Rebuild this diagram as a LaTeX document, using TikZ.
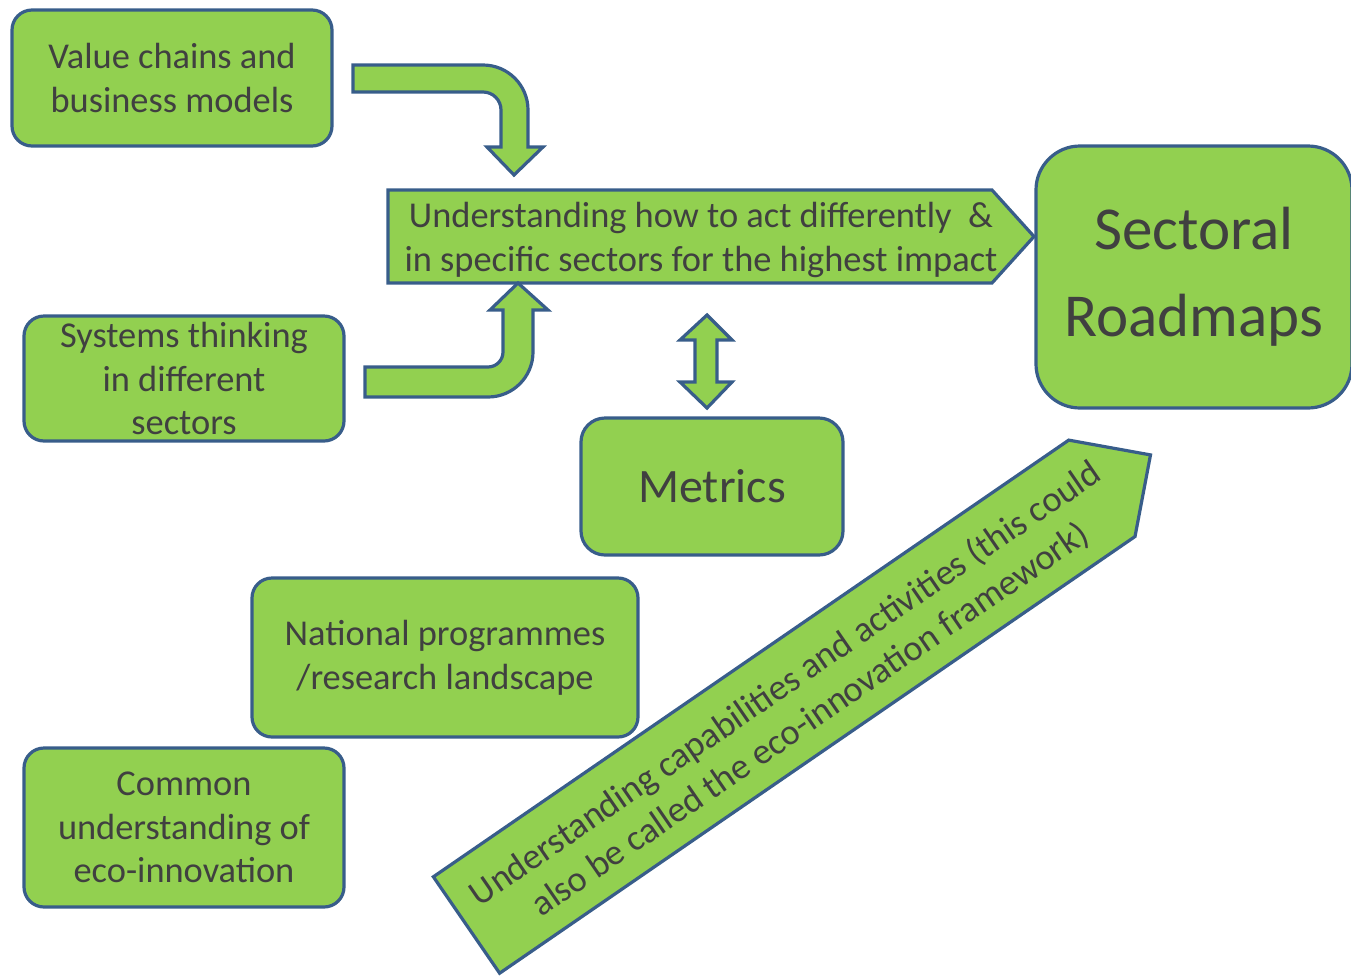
\documentclass[tikz,border=0pt]{standalone}
\usepackage{fontspec}
\setmainfont{Carlito}
\usetikzlibrary{positioning}
\definecolor{boxgreen}{HTML}{92D050}
\definecolor{boxblue}{HTML}{385D8A}
\definecolor{boxtext}{HTML}{404040}

\begin{document}
\begin{tikzpicture}[
    x = 0.5pt, y = 0.5pt,
    box/.style = {rectangle, draw=boxblue, fill=boxgreen, line width=1.6pt, rounded corners=10pt, inner sep=0pt, align=center, text=boxtext, font=\fontsize{18.2}{21.8}\selectfont},
    arrowtext/.style = {inner sep=0pt, align=center, text=boxtext, font=\fontsize{18.2}{21.8}\selectfont},
    blockarrow/.style = {draw=boxblue, fill=boxgreen, line width=1.6pt, line join=miter}
]
\useasboundingbox (0,0) rectangle (1351,-976);

% Define nodes
\node[box, minimum width=160pt, minimum height=68pt] (chains) at (172,-78) {Value chains and\\business models};
\node[box, minimum width=160pt, minimum height=62.5pt] (systems) at (184,-378.5) {Systems thinking\\in different\\sectors};
\node[box, minimum width=131pt, minimum height=68.5pt, rounded corners=12pt, font=\fontsize{24}{29}\selectfont] (metrics) at (712,-486.5) {Metrics};
\node[box, minimum width=193pt, minimum height=79.5pt] (national) at (445,-657.5) {National programmes\\/research landscape};
\node[box, minimum width=160pt, minimum height=79.5pt] (common) at (184,-827.5) {Common\\understanding of\\eco-innovation};
\node[box, minimum width=158pt, minimum height=131pt, rounded corners=22pt, font=\fontsize{30.5}{43.5}\selectfont] (roadmaps) at (1194,-277) {\raisebox{-2pt}{Sectoral}\\\raisebox{-2pt}{Roadmaps}};

% Block arrows
\draw[blockarrow] (388,-190) -- (992,-190) -- (1034,-236.5) -- (992,-283) -- (388,-283) -- cycle;
\node[arrowtext] (act) at (701,-240) {Understanding how to act differently \ \&\\in specific sectors for the highest impact};

\draw[blockarrow] (353,-65) -- (483,-65) arc[start angle=90, end angle=0, radius=45]
    -- (528,-147) -- (543,-147) -- (514,-175) -- (487,-147) -- (501,-147) -- (501,-110)
    arc[start angle=0, end angle=90, radius=18] -- (353,-92) -- cycle;

\draw[blockarrow] (365,-367) -- (488,-367) arc[start angle=-90, end angle=0, radius=15]
    -- (503,-310) -- (490,-310) -- (518,-283) -- (548,-310) -- (533,-310) -- (533,-352)
    arc[start angle=0, end angle=-90, radius=45] -- (365,-397) -- cycle;

\draw[blockarrow] (707,-315) -- (732,-340) -- (717,-340) -- (717,-382) -- (732,-382) -- (707,-408)
    -- (680,-382) -- (695,-382) -- (695,-340) -- (680,-340) -- cycle;

\begin{scope}[shift={(466.5,-925)}, rotate=34.5]
\draw[blockarrow] (0,58.5) -- (771,58.5) -- (830,0) -- (771,-58.5) -- (0,-58.5) -- cycle;
\end{scope}
\node[arrowtext, rotate=34.5] (capab) at (798,-702) {Understanding capabilities and activities (this could\\also be called the eco-innovation framework)};

\end{tikzpicture}
\end{document}
